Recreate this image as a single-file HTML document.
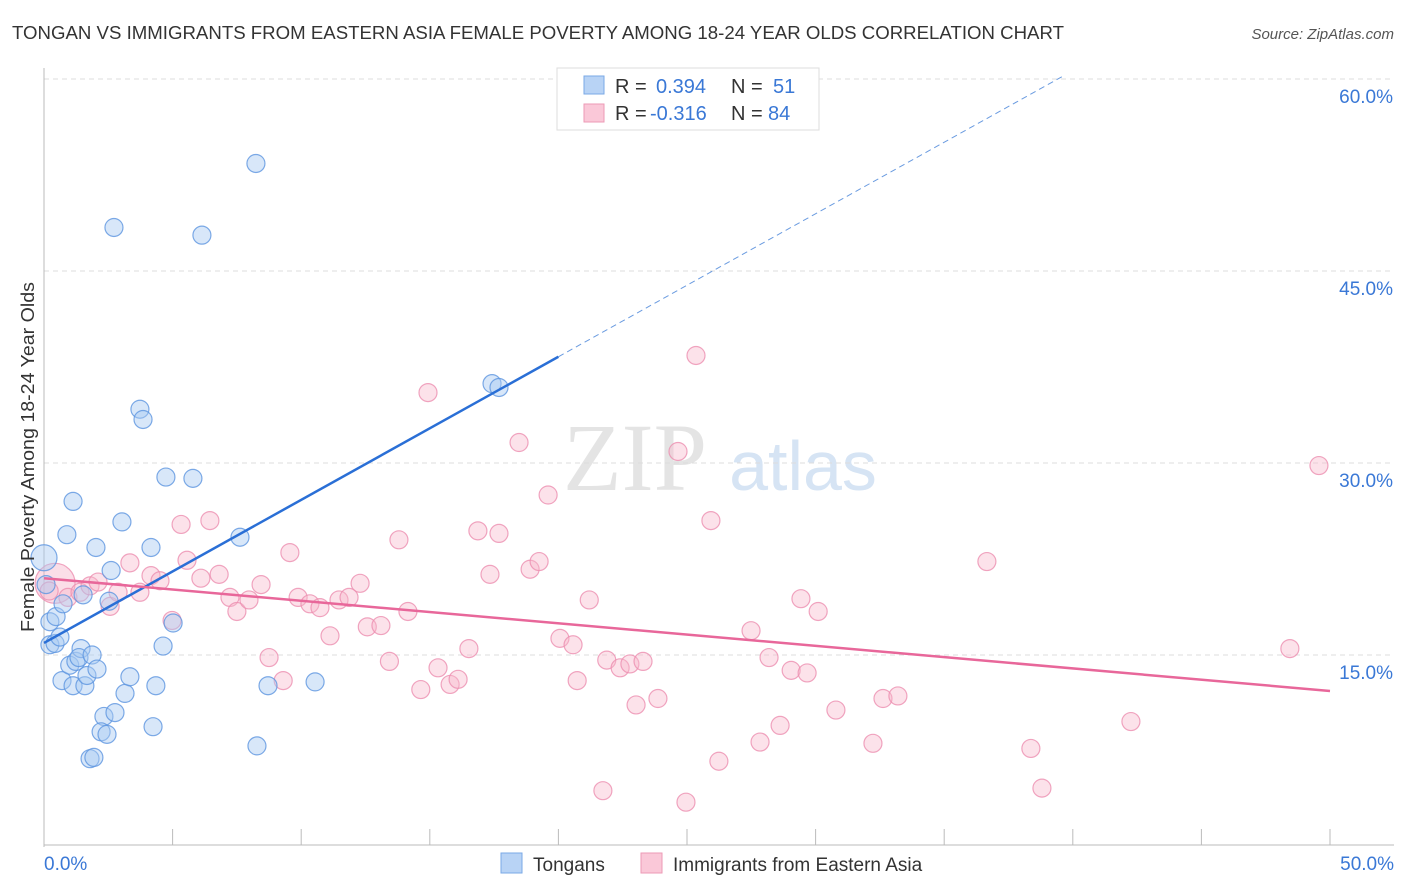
<!DOCTYPE html>
<html><head><meta charset="utf-8"><style>
body{margin:0;background:#fff;font-family:"Liberation Sans",sans-serif;}
svg{display:block}
</style></head><body>
<svg id="chart" width="1406" height="892">
<text x="12" y="39" font-size="18" fill="#333" textLength="1052" lengthAdjust="spacingAndGlyphs">TONGAN VS IMMIGRANTS FROM EASTERN ASIA FEMALE POVERTY AMONG 18-24 YEAR OLDS CORRELATION CHART</text>
<text x="1394" y="39" font-size="15" fill="#555" font-style="italic" text-anchor="end">Source: ZipAtlas.com</text>
<g>
<text x="635" y="490" font-size="96" fill="#e4e4e4" font-family="Liberation Serif,serif" text-anchor="middle">ZIP</text>
<text x="803" y="490" font-size="70" fill="#d6e4f4" text-anchor="middle">atlas</text>
</g>
<g id="grid"></g>
<g id="axes"></g>
<g id="marks"></g>
<text transform="translate(34,457) rotate(-90)" font-size="18" fill="#333" text-anchor="middle" textLength="350" lengthAdjust="spacingAndGlyphs">Female Poverty Among 18-24 Year Olds</text>
<g>
<rect x="557" y="68" width="262" height="62" fill="#fff" stroke="#ddd"/>
<rect x="584" y="76" width="20" height="18" fill="#b8d3f5" stroke="#7aa8e6"/>
<rect x="584" y="104" width="20" height="18" fill="#fac8d8" stroke="#ec9ab6"/>
<text x="615" y="93" font-size="20" fill="#333">R = </text><text x="656" y="93" font-size="20" fill="#3a78d6">0.394</text>
<text x="731" y="93" font-size="20" fill="#333">N = </text><text x="773" y="93" font-size="20" fill="#3a78d6">51</text>
<text x="615" y="120" font-size="20" fill="#333">R = </text><text x="650" y="120" font-size="20" fill="#3a78d6">-0.316</text>
<text x="731" y="120" font-size="20" fill="#333">N = </text><text x="768" y="120" font-size="20" fill="#3a78d6">84</text>
</g>
<g>
<rect x="501" y="853" width="21" height="20" fill="#b8d3f5" stroke="#7aa8e6"/>
<text x="533" y="871" font-size="19" fill="#333">Tongans</text>
<rect x="641" y="853" width="21" height="20" fill="#fac8d8" stroke="#ec9ab6"/>
<text x="673" y="871" font-size="19" fill="#333">Immigrants from Eastern Asia</text>
</g>
</svg>
<script>
const yTicks=[15,30,45,60];
const yTickLabels=["15.0%","30.0%","45.0%","60.0%"];
const xTicks=[0,5,10,15,20,25,30,35,40,45,50];
const blueX=[0,0.23,0.47,0.23,0.43,0.62,0.74,0.89,1.13,0.70,1.0,1.13,1.24,1.44,1.36,1.59,1.67,1.87,2.06,2.02,1.52,2.33,2.22,2.45,2.76,1.79,1.94,2.53,2.61,3.03,3.15,3.34,3.73,3.85,4.16,4.35,4.24,4.63,4.74,5.02,5.79,2.72,6.14,7.62,8.24,8.28,8.71,10.54,17.42,17.69,0.08];
const blueY=[22.6,17.6,18.0,15.8,15.9,16.4,19.0,24.4,27.0,13.0,14.2,12.6,14.5,15.5,14.8,12.6,13.4,15.0,13.9,23.4,19.7,10.2,9.0,8.8,10.5,6.9,7.0,19.2,21.6,25.4,12.0,13.3,34.2,33.4,23.4,12.6,9.4,15.7,28.9,17.5,28.8,48.4,47.8,24.2,53.4,7.9,12.6,12.9,36.2,35.9,20.5];
const pinkX=[0.43,0.93,1.4,1.79,2.1,2.57,2.88,3.34,3.73,4.16,4.51,4.98,5.33,5.56,6.1,6.45,6.81,7.23,7.5,7.97,8.44,8.75,9.3,9.56,9.88,10.34,10.73,11.12,11.47,11.86,12.29,12.57,13.1,13.43,13.8,14.15,14.65,14.93,15.32,15.79,16.1,16.52,16.87,17.34,17.69,18.47,18.9,19.25,19.6,20.06,20.57,20.73,21.2,21.73,21.88,22.4,22.78,23.29,23.02,23.87,24.65,24.96,25.35,25.93,26.24,27.49,27.84,28.19,28.62,29.05,29.43,29.67,30.1,30.79,32.23,32.62,33.2,36.66,38.37,38.8,42.26,48.44,49.57,0.2];
const pinkY=[20.6,19.5,19.9,20.4,20.7,18.8,19.9,22.2,19.9,21.2,20.8,17.7,25.2,22.4,21.0,25.5,21.3,19.5,18.4,19.3,20.5,14.8,13.0,23.0,19.5,19.0,18.7,16.5,19.3,19.5,20.6,17.2,17.3,14.5,24.0,18.4,12.3,35.5,14.0,12.7,13.1,15.5,24.7,21.3,24.5,31.6,21.7,22.3,27.5,16.3,15.8,13.0,19.3,4.4,14.6,14.0,14.3,14.5,11.1,11.6,30.9,3.5,38.4,25.5,6.7,16.9,8.2,14.8,9.5,13.8,19.4,13.6,18.4,10.7,8.1,11.6,11.8,22.3,7.7,4.6,9.8,15.5,29.8,20.0];
const blueLine=[15.94,38.3,60.2]; // y at x=0, 20, 39.6
const blueLineX=[0,20,39.6];
const pinkLine=[21.0,12.19]; // y at x=0, 50
const pinkLineX=[0,50];

const NS="http://www.w3.org/2000/svg";
const X=v=>44+v*25.72, Y=v=>847-v*12.8;
function mk(p,t,a){const e=document.createElementNS(NS,t);for(const k in a)e.setAttribute(k,a[k]);p.appendChild(e);return e;}
const grid=document.getElementById('grid'),axes=document.getElementById('axes'),marks=document.getElementById('marks');
yTicks.forEach((t,i)=>{
 const l=mk(grid,'line',{x1:44,x2:1394,y1:Y(t),y2:Y(t),stroke:'#ddd','stroke-dasharray':'5,4'});
 
 
 const tx=mk(grid,'text',{x:1393,y:Y(t)+24,'font-size':19,fill:'#3a78d6','text-anchor':'end'});
 tx.textContent=yTickLabels[i];
 
 
});
const ya=mk(axes,'line',{x1:44,x2:44,y1:68,y2:847,stroke:'#bbb'});


const xa=mk(axes,'line',{x1:44,x2:1394,y1:845,y2:845,stroke:'#bbb'});


xTicks.forEach(t=>{
 const l=mk(axes,'line',{x1:X(t),x2:X(t),y1:829,y2:845,stroke:'#bbb'});
 
 
});
[[0,'0.0%','start',44],[50,'50.0%','end',1394]].forEach(d=>{
 const tx=mk(axes,'text',{x:d[3],y:870,'font-size':19,fill:'#3a78d6','text-anchor':d[2]});
 tx.textContent=d[1];
 
 
});
pinkX.forEach((v,i)=>{
 const big=i===0;
 const c=mk(marks,'circle',{cx:X(v),cy:Y(pinkY[i]),r:big?20:9,fill:'#f7b6cb','fill-opacity':big?0.45:0.4,stroke:'#ec8fb0','stroke-opacity':0.8,'stroke-width':1.2});
 
 
});
blueX.forEach((v,i)=>{
 const big=i===0;
 const c=mk(marks,'circle',{cx:X(v),cy:Y(blueY[i]),r:big?13:9,fill:'#a9c9f2','fill-opacity':0.45,stroke:'#5d95e0','stroke-opacity':0.8,'stroke-width':1.2});
 
 
});
const bl=mk(marks,'line',{x1:X(blueLineX[0]),y1:Y(blueLine[0]),x2:X(blueLineX[1]),y2:Y(blueLine[1]),stroke:'#2a6fd6','stroke-width':2.5});


const bd=mk(marks,'line',{x1:X(blueLineX[1]),y1:Y(blueLine[1]),x2:X(blueLineX[2]),y2:Y(blueLine[2]),stroke:'#6a9be0','stroke-width':1,'stroke-dasharray':'6,4'});


const pl=mk(marks,'line',{x1:X(pinkLineX[0]),y1:Y(pinkLine[0]),x2:X(pinkLineX[1]),y2:Y(pinkLine[1]),stroke:'#e8679a','stroke-width':2.5});


</script>
</body></html>
